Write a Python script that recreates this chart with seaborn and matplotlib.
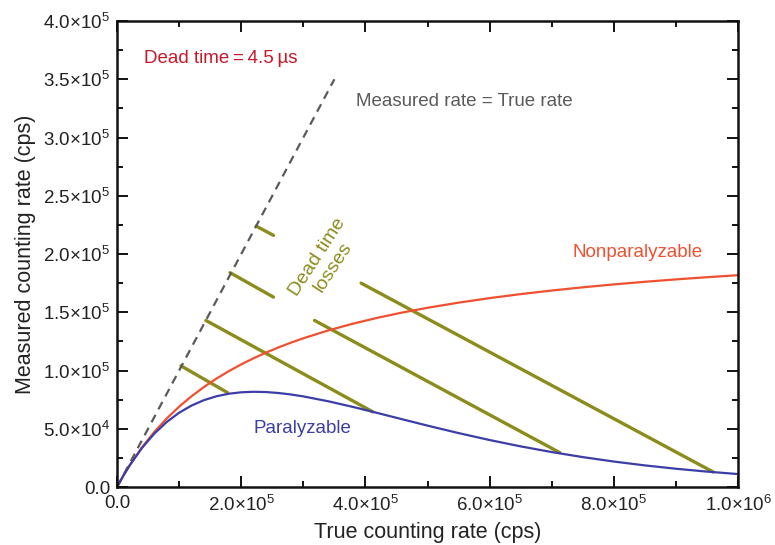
import numpy as np
import pandas as pd
import matplotlib
matplotlib.use("Agg")
import matplotlib.pyplot as plt
from matplotlib.ticker import FixedLocator, FixedFormatter, MultipleLocator
import seaborn as sns

# ---------------- data ----------------
true_rate = [0, 10e3, 20e3, 40e3, 60e3, 80e3, 100e3, 120e3, 140e3, 160e3, 180e3,
             200e3, 220e3, 240e3, 260e3, 280e3, 300e3, 340e3, 380e3, 420e3, 460e3,
             500e3, 550e3, 600e3, 650e3, 700e3, 750e3, 800e3, 850e3, 900e3, 950e3, 1000e3]
nonparalyzable = [0, 9570, 18350, 33900, 47240, 58820, 68970, 77920, 85890, 93020, 99450,
                  105260, 110550, 115380, 119820, 123890, 127660, 134390, 140220, 145330, 149840,
                  153850, 158270, 162160, 165600, 168670, 171430, 173910, 176170, 178220, 180100, 181820]
paralyzable = [0, 9560, 18280, 33410, 45800, 55820, 63760, 69930, 74570, 77880, 80080,
               81310, 81750, 81510, 80700, 79430, 77780, 73620, 68740, 63460, 58060,
               52700, 46290, 40330, 34880, 30000, 25670, 21860, 18550, 15680, 13220, 11110]

identity_x = [0, 350e3]
identity_y = [0, 350e3]

# dead-time loss segments: start and end points
loss_x0 = [103e3, 143e3, 182e3, 224e3, 318e3, 393e3]
loss_y0 = [104e3, 143e3, 184e3, 224e3, 143e3, 175e3]
loss_x1 = [178e3, 412e3, 252e3, 252e3, 713e3, 960e3]
loss_y1 = [81e3, 64.5e3, 163e3, 216e3, 29.5e3, 12.9e3]

x_ticks = [0, 2e5, 4e5, 6e5, 8e5, 1e6]
x_tick_labels = ["0.0", "2.0$\\times$10$^{5}$", "4.0$\\times$10$^{5}$", "6.0$\\times$10$^{5}$",
                 "8.0$\\times$10$^{5}$", "1.0$\\times$10$^{6}$"]
y_ticks = [0, 5e4, 1e5, 1.5e5, 2e5, 2.5e5, 3e5, 3.5e5, 4e5]
y_tick_labels = ["0.0", "5.0$\\times$10$^{4}$", "1.0$\\times$10$^{5}$", "1.5$\\times$10$^{5}$",
                 "2.0$\\times$10$^{5}$", "2.5$\\times$10$^{5}$", "3.0$\\times$10$^{5}$",
                 "3.5$\\times$10$^{5}$", "4.0$\\times$10$^{5}$"]

# ---------------- style ----------------
sns.set_style("ticks")
plt.rcParams["font.family"] = ["Liberation Sans", "DejaVu Sans"]
plt.rcParams["mathtext.fontset"] = "custom"
plt.rcParams["mathtext.rm"] = "Liberation Sans"
plt.rcParams["mathtext.it"] = "Liberation Sans:italic"
plt.rcParams["mathtext.bf"] = "Liberation Sans:bold"

RED_ORANGE = "#f0502f"
BLUE = "#3b3ea6"
OLIVE = "#8c8c1c"
DARKRED = "#c8172b"
GRAY = "#5a5a5a"

fig = plt.figure(figsize=(7.75, 5.45), dpi=100)
ax = fig.add_axes([0.151, 0.1064, 0.8013, 0.855])

curves = pd.DataFrame({"true": true_rate, "non": nonparalyzable, "par": paralyzable})
ident = pd.DataFrame({"x": identity_x, "y": identity_y})

rows = []
for i, (a, b, c, d) in enumerate(zip(loss_x0, loss_y0, loss_x1, loss_y1)):
    rows.append({"seg": i, "x": a, "y": b})
    rows.append({"seg": i, "x": c, "y": d})
segs = pd.DataFrame(rows)

sns.lineplot(data=segs, x="x", y="y", units="seg", estimator=None, sort=False,
             color=OLIVE, lw=2.4, ax=ax)
sns.lineplot(data=ident, x="x", y="y", color=GRAY, lw=1.6, dashes=False, ax=ax,
             linestyle=(0, (3.8, 2.8)))
sns.lineplot(data=curves, x="true", y="non", color=RED_ORANGE, lw=1.6, ax=ax)
sns.lineplot(data=curves, x="true", y="par", color=BLUE, lw=1.6, ax=ax)

ax.set_xlim(0, 1e6)
ax.set_ylim(0, 4e5)
ax.xaxis.set_major_locator(FixedLocator(x_ticks))
ax.xaxis.set_major_formatter(FixedFormatter(x_tick_labels))
ax.yaxis.set_major_locator(FixedLocator(y_ticks))
ax.yaxis.set_major_formatter(FixedFormatter(y_tick_labels))
ax.xaxis.set_minor_locator(MultipleLocator(1e5))
ax.yaxis.set_minor_locator(MultipleLocator(2.5e4))
ax.tick_params(which="both", direction="in", top=True, right=True, width=1.4, color="#111111")
ax.tick_params(which="major", length=8, labelsize=13.5, labelcolor="#222222")
ax.tick_params(which="minor", length=4.5)
ax.tick_params(axis="x", which="major", pad=6)
ax.tick_params(axis="y", which="major", pad=5)
for s in ax.spines.values():
    s.set_linewidth(1.8)
    s.set_color("#111111")

ax.set_xlabel("True counting rate (cps)", fontsize=15.5, color="#222222", labelpad=5)
ax.set_ylabel("Measured counting rate (cps)", fontsize=15.5, color="#222222", labelpad=5)

ax.text(43e3, 368e3, "Dead time\u2009=\u20094.5\u2009µs", color=DARKRED, fontsize=13.5,
        ha="left", va="center")
ax.text(385e3, 331e3, "Measured rate = True rate", color=GRAY, fontsize=13.5,
        ha="left", va="center")
ax.text(733e3, 201e3, "Nonparalyzable", color=RED_ORANGE, fontsize=13.5,
        ha="left", va="center")
ax.text(219e3, 50.5e3, "Paralyzable", color=BLUE, fontsize=13.5,
        ha="left", va="center")
ax.text(336e3, 193e3, "Dead time\nlosses", color=OLIVE, fontsize=14,
        ha="center", va="center", rotation=57, rotation_mode="anchor",
        multialignment="center", linespacing=1.1)

fig.savefig("out.png", dpi=100)
